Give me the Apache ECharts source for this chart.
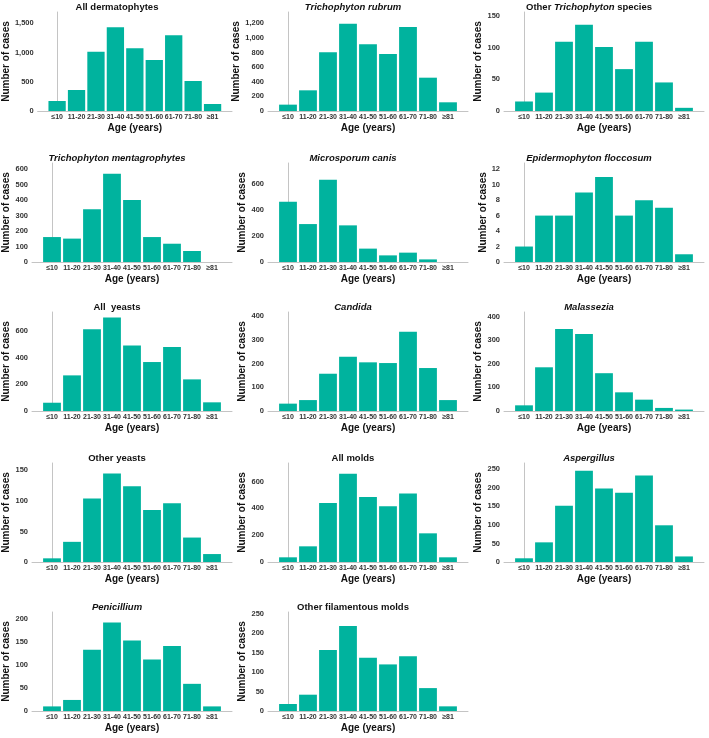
<!DOCTYPE html>
<html>
<head>
<meta charset="utf-8">
<script src="https://cdn.jsdelivr.net/npm/echarts@6/dist/echarts.min.js"></script>
<style>
html,body{margin:0;padding:0;background:#fff;}
#chart{width:709px;height:738px;}
</style>
</head>
<body>
<div id="chart"></div>
<script>
// ---- data ----
const ageGroups = ['≤10','11-20','21-30','31-40','41-50','51-60','61-70','71-80','≥81'];

const allDermatophytes        = [171, 359, 1015, 1431, 1072, 873, 1295, 513, 120];
const trichophytonRubrum      = [87, 283, 803, 1195, 913, 780, 1150, 456, 119];
const otherTrichophyton       = [15, 29, 109, 136, 101, 66, 109, 45, 5];
const trichophytonMentagrophytes = [161, 151, 340, 570, 400, 161, 118, 71, 0];
const microsporumCanis        = [464, 292, 633, 282, 103, 51, 72, 20, 0];
const epidermophytonFloccosum = [2, 6, 6, 9, 11, 6, 8, 7, 1];
const allYeasts               = [62, 267, 612, 700, 490, 367, 480, 237, 65];
const candida                 = [31, 46, 157, 228, 205, 202, 334, 181, 46];
const malassezia              = [24, 185, 347, 326, 160, 79, 48, 13, 6];
const otherYeasts             = [6, 33, 104, 145, 124, 85, 96, 40, 13];
const allMolds                = [35, 117, 441, 658, 486, 416, 511, 214, 35];
const aspergillus             = [10, 53, 152, 246, 198, 187, 233, 99, 15];
const penicillium             = [10, 24, 133, 192, 153, 112, 141, 59, 10];
const otherFilamentousMolds   = [18, 42, 157, 219, 137, 120, 141, 59, 12];

// y tick labels
const ticksAllDermatophytes = [0, 500, 1000, 1500];
const ticksRubrum           = [0, 200, 400, 600, 800, 1000, 1200];
const ticksOtherTricho      = [0, 50, 100, 150];
const ticksMentagrophytes   = [0, 100, 200, 300, 400, 500, 600];
const ticksCanis            = [0, 200, 400, 600];
const ticksEpidermophyton   = [0, 2, 4, 6, 8, 10, 12];
const ticksAllYeasts        = [0, 200, 400, 600];
const ticksCandida          = [0, 100, 200, 300, 400];
const ticksMalassezia       = [0, 100, 200, 300, 400];
const ticksOtherYeasts      = [0, 50, 100, 150];
const ticksAllMolds         = [0, 200, 400, 600];
const ticksAspergillus      = [0, 50, 100, 150, 200, 250];
const ticksPenicillium      = [0, 50, 100, 150, 200];
const ticksOtherFilamentous = [0, 50, 100, 150, 200, 250];

// titles ({i|...} = italic part)
const panelTitles = [
  '{n|All dermatophytes}',
  '{i|Trichophyton rubrum}',
  '{n|Other }{i|Trichophyton}{n| species}',
  '{i|Trichophyton mentagrophytes}',
  '{i|Microsporum canis}',
  '{i|Epidermophyton floccosum}',
  '{n|All  yeasts}',
  '{i|Candida}',
  '{i|Malassezia}',
  '{n|Other yeasts}',
  '{n|All molds}',
  '{i|Aspergillus}',
  '{i|Penicillium}',
  '{n|Other filamentous molds}'
];

const panels = [
  {values: allDermatophytes, ticks: ticksAllDermatophytes, max: 1694},
  {values: trichophytonRubrum, ticks: ticksRubrum, max: 1355},
  {values: otherTrichophyton, ticks: ticksOtherTricho, max: 156},
  {values: trichophytonMentagrophytes, ticks: ticksMentagrophytes, max: 639},
  {values: microsporumCanis, ticks: ticksCanis, max: 762},
  {values: epidermophytonFloccosum, ticks: ticksEpidermophyton, max: 12.8},
  {values: allYeasts, ticks: ticksAllYeasts, max: 742},
  {values: candida, ticks: ticksCandida, max: 417},
  {values: malassezia, ticks: ticksMalassezia, max: 419},
  {values: otherYeasts, ticks: ticksOtherYeasts, max: 162},
  {values: allMolds, ticks: ticksAllMolds, max: 739},
  {values: aspergillus, ticks: ticksAspergillus, max: 267},
  {values: penicillium, ticks: ticksPenicillium, max: 215},
  {values: otherFilamentousMolds, ticks: ticksOtherFilamentous, max: 255}
];

// ---- layout ----
const colX = [0, 236, 472];
const rowT = [7, 158, 307, 458, 607];
const FONT = '"Liberation Sans", Arial, sans-serif';
const BAR = '#00b39e';
const AXIS = '#c4c4c4';

const grids = [], xAxes = [], yAxes = [], series = [], graphics = [];
panels.forEach((p, k) => {
  const c = k % 3, r = Math.floor(k / 3);
  const ox = colX[c], T = rowT[r];
  grids.push({left: ox + 32, top: T + 5, width: 200, height: 99, containLabel: false});
  xAxes.push({
    gridIndex: k, type: 'value', min: -1, max: 9, interval: 1,
    name: 'Age (years)', nameLocation: 'middle', nameGap: 12,
    nameTextStyle: {fontFamily: FONT, fontWeight: 'bold', fontSize: 10, color: '#111'},
    axisLine: {show: true, lineStyle: {color: AXIS, width: 1}},
    axisTick: {show: false}, splitLine: {show: false},
    axisLabel: {
      customValues: ageGroups.map((g, i) => i),
      formatter: v => (ageGroups[v] !== undefined ? ageGroups[v] : ''),
      fontFamily: FONT, fontWeight: 'bold', fontSize: 7, color: '#333', margin: 3
    }
  });
  yAxes.push({
    gridIndex: k, type: 'value', min: 0, max: p.max,
    name: 'Number of cases', nameLocation: 'middle', nameGap: 15, nameRotate: 90,
    nameTextStyle: {fontFamily: FONT, fontWeight: 'bold', fontSize: 10, color: '#111'},
    axisLine: {show: true, lineStyle: {color: AXIS, width: 1}},
    axisTick: {show: false}, splitLine: {show: false},
    axisLabel: {
      customValues: p.ticks,
      formatter: v => v.toLocaleString('en-US'),
      fontFamily: FONT, fontWeight: 'bold', fontSize: 7.5, color: '#333', margin: 4
    }
  });
  series.push({
    type: 'bar', xAxisIndex: k, yAxisIndex: k,
    data: p.values.map((v, i) => [i, v]),
    barWidth: '89%',
    itemStyle: {color: BAR},
    silent: true, animation: false
  });
  graphics.push({
    type: 'text', x: ox + 117, y: T,
    style: {
      text: panelTitles[k], align: 'center', verticalAlign: 'middle',
      fontFamily: FONT, fontSize: 9.5, fontWeight: 'bold', fill: '#111',
      rich: {
        n: {fontFamily: FONT, fontSize: 9.5, fontWeight: 'bold', fontStyle: 'normal', fill: '#111'},
        i: {fontFamily: FONT, fontSize: 9.5, fontWeight: 'bold', fontStyle: 'italic', fill: '#111'}
      }
    }
  });
});

const chart = echarts.init(document.getElementById('chart'), null, {renderer: 'canvas'});
chart.setOption({
  animation: false,
  backgroundColor: '#fff',
  grid: grids, xAxis: xAxes, yAxis: yAxes, series: series,
  graphic: graphics
});
</script>
</body>
</html>
